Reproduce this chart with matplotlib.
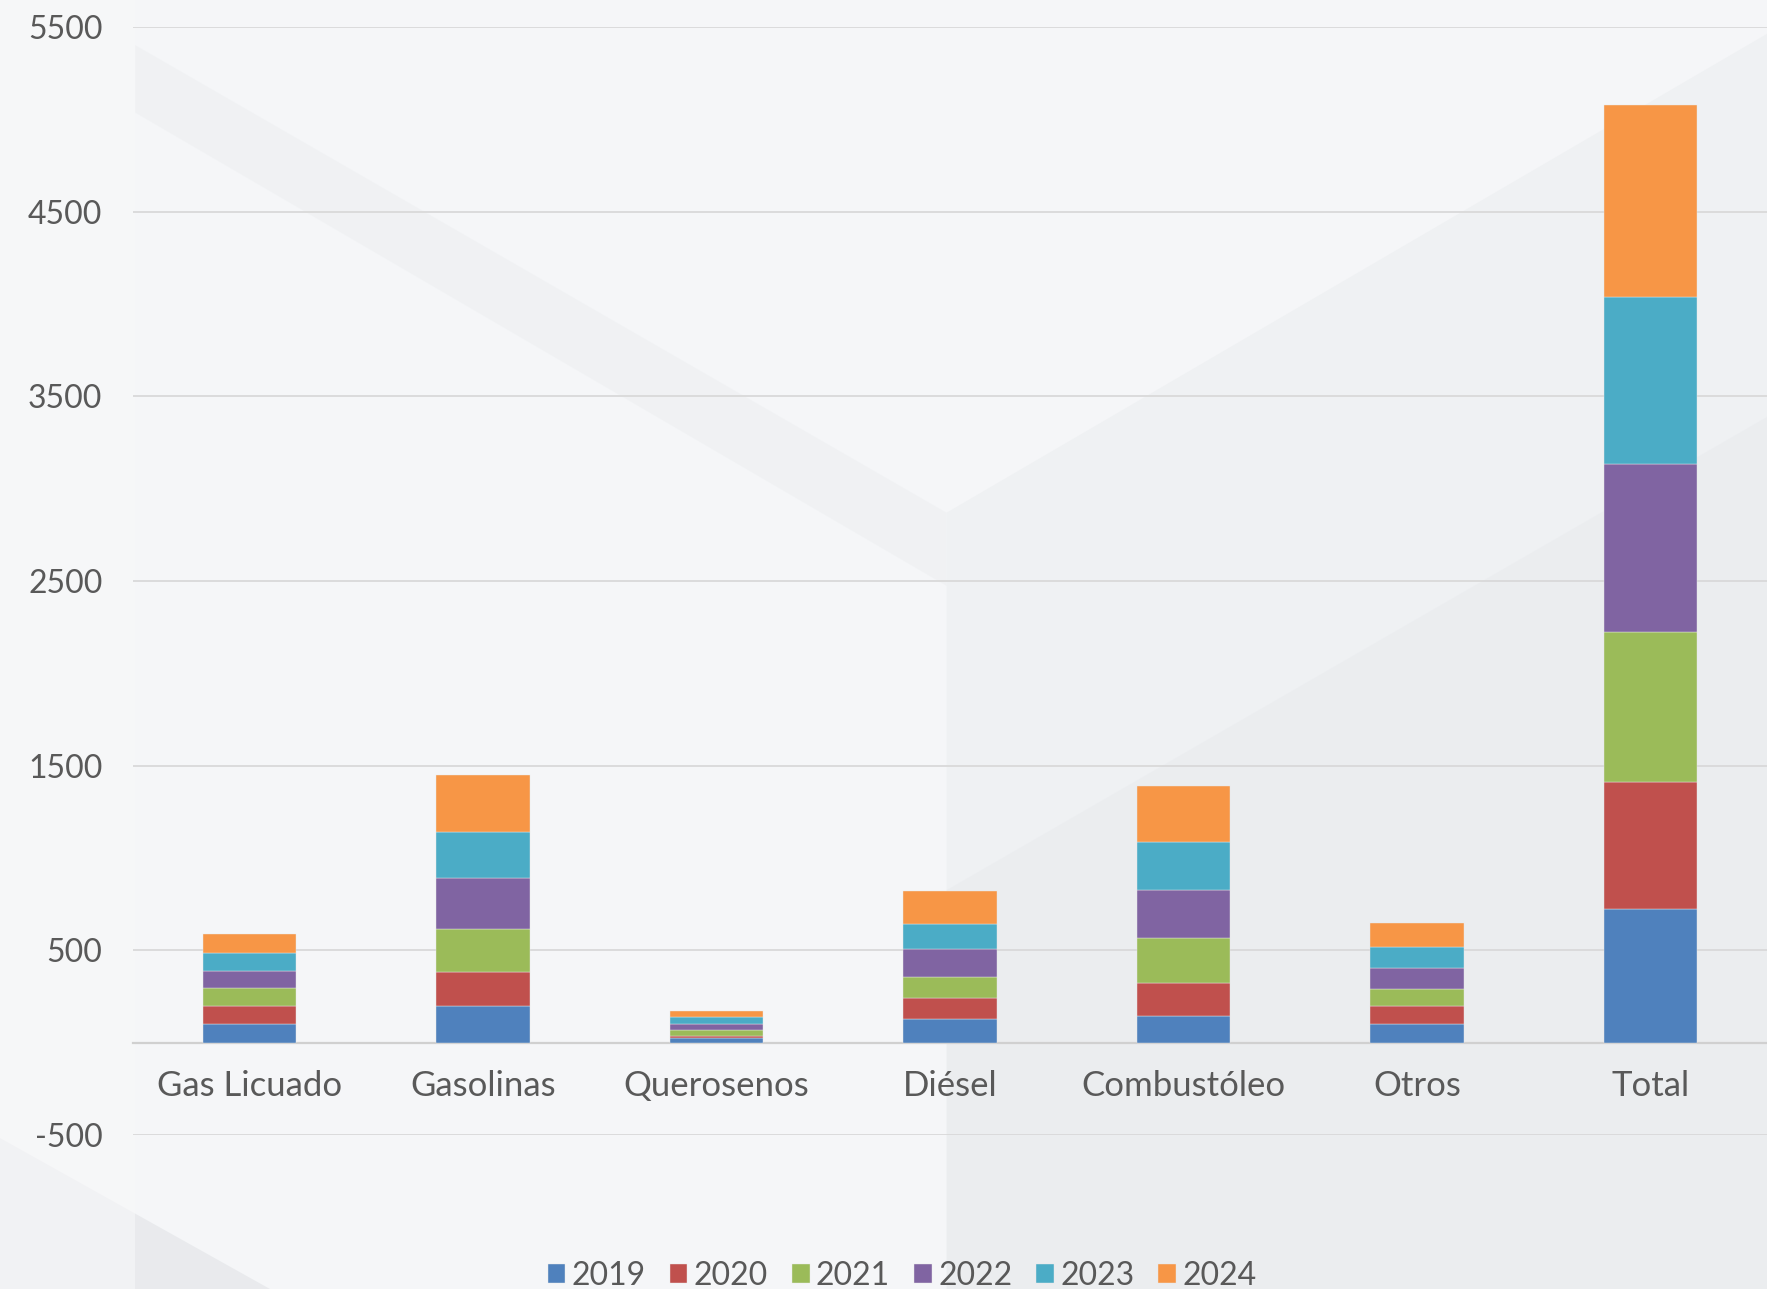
import numpy as np
import matplotlib
matplotlib.use('Agg')
import matplotlib.pyplot as plt
from matplotlib.patches import Polygon

plt.rcParams['font.family'] = ['Lato', 'DejaVu Sans']

# datos
categorias = ['Gas Licuado', 'Gasolinas', 'Querosenos', 'Diésel', 'Combustóleo', 'Otros', 'Total']
anios = ['2019', '2020', '2021', '2022', '2023', '2024']
v2019 = [103, 197, 24, 127, 144, 100, 724]
v2020 = [98, 188, 14, 113, 178, 98, 687]
v2021 = [96, 232, 31, 118, 245, 93, 811]
v2022 = [90, 273, 34, 147, 260, 113, 912]
v2023 = [101, 251, 34, 135, 262, 113, 902]
v2024 = [100, 308, 36, 184, 302, 129, 1043]
series = [v2019, v2020, v2021, v2022, v2023, v2024]
colores = ['#4f81bd', '#c0504d', '#9bbb59', '#8064a2', '#4bacc6', '#f79646']
yticks = [-500, 500, 1500, 2500, 3500, 4500, 5500]

W, H = 1767, 1289
fig = plt.figure(figsize=(W / 100, H / 100), dpi=100)
fig.patch.set_facecolor('#f5f6f8')

# fondo con formas geometricas suaves (coordenadas de figura)
def poly(pts, color, alpha=1.0):
    pts = [(x / 1568, 1 - y / 1144) for x, y in pts]
    fig.patches.append(Polygon(pts, closed=True, transform=fig.transFigure,
                               facecolor=color, edgecolor='none', alpha=alpha, zorder=-10))

poly([(840, 455), (1568, 30), (1568, 1144), (840, 1144)], '#eef0f2', 0.8)
poly([(840, 790), (1568, 370), (1568, 1144), (840, 1144)], '#e8eaed', 0.5)
poly([(120, 40), (840, 455), (840, 520), (120, 100)], '#eceef0', 0.5)
poly([(0, 1010), (0, 1144), (240, 1144)], '#e6e8eb', 0.8)
poly([(0, 0), (120, 0), (120, 1144), (0, 1144)], '#f8f8f9', 0.6)

ax = fig.add_axes([133 / W, 1 - 1135 / H, 1 - 133 / W, (1135 - 27) / H])
ax.set_facecolor('none')

x = np.arange(len(categorias))
base = np.zeros(len(categorias))
for nombre, vals, c in zip(anios, series, colores):
    ax.bar(x, vals, width=0.4, bottom=base, color=c, label=nombre,
           edgecolor='#e8e8e8', linewidth=0.3, zorder=3)
    base += np.array(vals)

ax.set_xlim(-0.5, len(categorias) - 0.5)
ax.set_ylim(-500, 5500)
ax.set_yticks(yticks)
ax.set_yticklabels([str(t) for t in yticks])
ax.yaxis.grid(True, color='#d9d9d9', linewidth=1.3, zorder=0)
ax.set_axisbelow(True)

for s in ['left', 'right', 'top']:
    ax.spines[s].set_visible(False)
ax.spines['bottom'].set_position(('data', 0))
ax.spines['bottom'].set_color('#d0d0d0')
ax.spines['bottom'].set_linewidth(1.6)

ax.set_xticks(x)
ax.set_xticklabels(categorias)
ax.tick_params(axis='x', length=0, pad=20, labelsize=25, labelcolor='#595959')
ax.tick_params(axis='y', length=0, pad=22, labelsize=23, labelcolor='#595959')

leg = fig.legend(loc='center', bbox_to_anchor=(902 / W, 1 - 1276 / H), ncol=6, frameon=False,
                 fontsize=23, handlelength=0.55, handleheight=0.55, handletextpad=0.2,
                 columnspacing=0.75)
for t in leg.get_texts():
    t.set_color('#595959')

fig.savefig('out.png', dpi=100, facecolor=fig.get_facecolor())
